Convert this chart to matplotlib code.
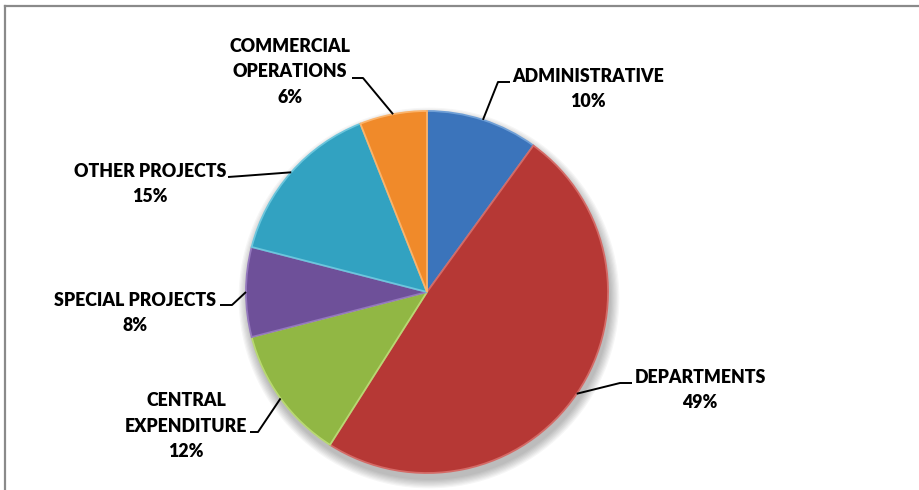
import matplotlib
matplotlib.use("Agg")
import matplotlib.pyplot as plt
import numpy as np
from matplotlib.patches import Circle
from matplotlib.lines import Line2D

categories = ["ADMINISTRATIVE", "DEPARTMENTS", "CENTRAL\nEXPENDITURE",
              "SPECIAL PROJECTS", "OTHER PROJECTS", "COMMERCIAL\nOPERATIONS"]
values = [10, 49, 12, 8, 15, 6]
colors = ["#3b74bb", "#b63835", "#91b744", "#6e5099", "#32a2c1", "#f08a2a"]
edge_colors = ["#6f9fd6", "#d46a66", "#b8d872", "#9478bd", "#6cc6dd", "#fbb36a"]

W, H = 919, 490
fig = plt.figure(figsize=(W / 100, H / 100), dpi=100)
ax = fig.add_axes([0, 0, 1, 1])

cx, cy, r = 427, H - 292, 181

# soft drop shadow
for k in range(8):
    ax.add_patch(Circle((cx + 2, cy - 6), r + 1 + k * 1.2, color="black",
                        alpha=0.035, lw=0, zorder=0))

wedges, _ = ax.pie(values, colors=colors, startangle=90, counterclock=False,
                   center=(cx, cy), radius=r, frame=True,
                   wedgeprops=dict(linewidth=1.3, zorder=2))
for w, ec in zip(wedges, edge_colors):
    w.set_edgecolor(ec)
    w.set_zorder(2)

# label layout (pixel positions, y down): text center, elbow, line end
layout = [
    ((588, 89), (498, 82), (510, 82)),
    ((700, 390), (620, 383), (632, 383)),
    ((186, 426), (258, 432), (250, 432)),
    ((135, 313), (232, 305), (220, 305)),
    ((150, 184), (242, 176), (228, 177)),
    ((290, 72), (363, 78), (352, 78)),
]

for w, cat, val, (tc, el, en) in zip(wedges, categories, values, layout):
    ang = np.deg2rad((w.theta1 + w.theta2) / 2)
    ex = w.center[0] + w.r * np.cos(ang)
    ey = w.center[1] + w.r * np.sin(ang)
    ax.plot([ex, el[0], en[0]], [ey, H - el[1], H - en[1]], color="black",
            lw=1.4, solid_capstyle="butt", zorder=3)
    ax.text(tc[0], H - tc[1], f"{cat}\n{val}%", ha="center", va="center",
            fontsize=12.8, fontweight="heavy", family=["Lato", "DejaVu Sans"],
            linespacing=1.62, color="black", zorder=4)

ax.set_xlim(0, W)
ax.set_ylim(0, H)
ax.set_aspect("equal")
ax.axis("off")

# chart border (top and left visible)
fig.add_artist(Line2D([4.5 / W, 1], [1 - 6.5 / H, 1 - 6.5 / H], color="#8a8a8a", lw=1.6))
fig.add_artist(Line2D([4.5 / W, 4.5 / W], [0, 1 - 6.5 / H], color="#8a8a8a", lw=1.6))

fig.savefig("out.png", dpi=100, facecolor="white")
